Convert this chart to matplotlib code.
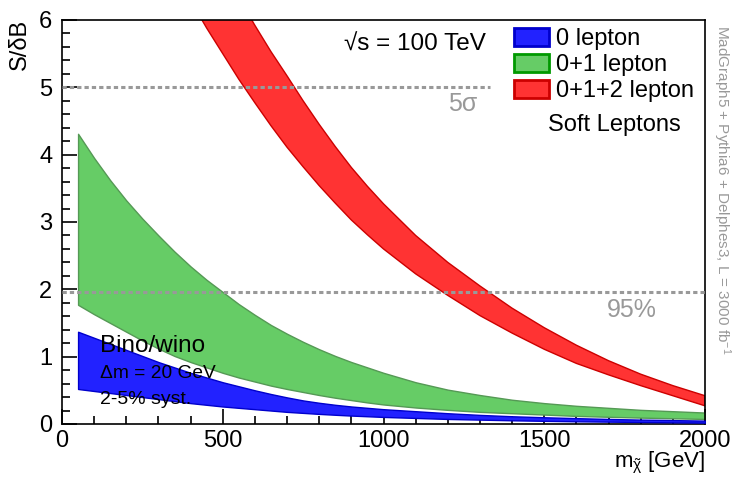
import matplotlib
matplotlib.use("Agg")
import matplotlib.pyplot as plt
from matplotlib.patches import Patch
import numpy as np

plt.rcParams['font.family'] = ['Liberation Sans', 'DejaVu Sans']
plt.rcParams['mathtext.fontset'] = 'custom'
plt.rcParams['mathtext.rm'] = 'Liberation Sans'
plt.rcParams['mathtext.it'] = 'Liberation Sans'
plt.rcParams['mathtext.default'] = 'regular'

# mass points (GeV)
mass = [50, 100, 150, 200, 250, 300, 350, 400, 450, 500,
        550, 600, 650, 700, 750, 800, 850, 900, 950, 1000,
        1100, 1200, 1300, 1400, 1500, 1600, 1700, 1800, 1900, 2000]

# 0 lepton band (lower = 5% syst, upper = 2% syst)
lep0_lo = [0.52, 0.49, 0.46, 0.43, 0.40, 0.37, 0.34, 0.31, 0.285, 0.26,
           0.24, 0.22, 0.20, 0.18, 0.165, 0.15, 0.137, 0.125, 0.115, 0.105,
           0.09, 0.075, 0.065, 0.055, 0.047, 0.04, 0.035, 0.03, 0.025, 0.02]
lep0_hi = [1.37, 1.28, 1.19, 1.10, 1.01, 0.92, 0.84, 0.76, 0.69, 0.62,
           0.56, 0.50, 0.445, 0.395, 0.35, 0.315, 0.285, 0.26, 0.24, 0.22,
           0.19, 0.16, 0.135, 0.115, 0.10, 0.087, 0.075, 0.065, 0.058, 0.05]

# 0+1 lepton band
lep01_lo = [1.77, 1.63, 1.50, 1.37, 1.24, 1.12, 1.01, 0.92, 0.84, 0.76,
            0.69, 0.63, 0.57, 0.52, 0.475, 0.43, 0.39, 0.355, 0.32, 0.29,
            0.245, 0.21, 0.18, 0.16, 0.14, 0.12, 0.107, 0.095, 0.085, 0.075]
lep01_hi = [4.31, 3.95, 3.62, 3.32, 3.05, 2.80, 2.56, 2.34, 2.14, 1.96,
            1.78, 1.62, 1.47, 1.34, 1.22, 1.11, 1.01, 0.92, 0.84, 0.76,
            0.62, 0.51, 0.43, 0.36, 0.31, 0.27, 0.24, 0.21, 0.19, 0.17]

# 0+1+2 lepton band
lep012_lo = [10.2, 9.5, 8.9, 8.3, 7.7, 7.2, 6.7, 6.29, 5.88, 5.50,
             5.12, 4.77, 4.43, 4.11, 3.82, 3.54, 3.28, 3.03, 2.81, 2.60,
             2.23, 1.91, 1.61, 1.35, 1.11, 0.90, 0.73, 0.57, 0.42, 0.27]
lep012_hi = [13.0, 12.2, 11.4, 10.6, 9.9, 9.2, 8.5, 7.9, 7.3, 6.8,
             6.33, 5.92, 5.53, 5.17, 4.80, 4.45, 4.12, 3.81, 3.53, 3.27,
             2.80, 2.40, 2.05, 1.72, 1.43, 1.17, 0.94, 0.74, 0.57, 0.42]

labels = ["0 lepton", "0+1 lepton", "0+1+2 lepton"]
sig5 = 5.0
cl95 = 1.96

W, H = 735, 479
fig = plt.figure(figsize=(W / 100, H / 100), dpi=100)
ax = fig.add_axes([62 / W, 1 - 424 / H, 643 / W, 404 / H])

ax.fill_between(mass, lep012_lo, lep012_hi, facecolor='#ff3333',
                edgecolor='#cc0000', linewidth=1.0, zorder=2)
ax.fill_between(mass, lep01_lo, lep01_hi, facecolor='#66cc66',
                edgecolor='#559955', linewidth=1.0, zorder=2)
ax.fill_between(mass, lep0_lo, lep0_hi, facecolor='#2222ff',
                edgecolor='#0000cc', linewidth=1.0, zorder=3)

ax.axhline(sig5, xmin=0, xmax=(490 - 62) / 643, color='#999999', lw=2.2,
           ls=(0, (1.4, 1.0)), zorder=4)
ax.axhline(cl95, color='#999999', lw=2.2, ls=(0, (1.4, 1.0)), zorder=4)

ax.set_xlim(0, 2000)
ax.set_ylim(0, 6)
ax.set_xticks([0, 500, 1000, 1500, 2000])
ax.set_xticks(np.arange(0, 2001, 100), minor=True)
ax.set_yticks([0, 1, 2, 3, 4, 5, 6])
ax.set_yticks(np.arange(0, 6.01, 0.2), minor=True)
ax.tick_params(which='both', direction='in', labelsize=17, width=1.2)
ax.tick_params(which='major', length=11, pad=7)
ax.tick_params(axis='x', which='major', pad=4)
ax.tick_params(which='minor', length=6)
for s in ax.spines.values():
    s.set_linewidth(1.2)

fig.text(20 / W, 1 - 19 / H, "S/\u03b4B", rotation=90, fontsize=17,
         ha='center', va='top')
fig.text(705 / W, 1 - 467 / H, r"m$_{\tilde{\chi}}$ [GeV]", fontsize=16,
         ha='right', va='baseline')

fig.text(415 / W, 1 - 45 / H, "\u221as = 100 TeV", fontsize=17.5,
         ha='center', va='center')
fig.text(463 / W, 1 - 104 / H, "5\u03c3", fontsize=18, color='#999999',
         ha='center', va='center')
fig.text(632 / W, 1 - 310 / H, "95%", fontsize=18, color='#999999',
         ha='center', va='center')
fig.text(100 / W, 1 - 346 / H, "Bino/wino", fontsize=17.5, ha='left',
         va='center', zorder=5)
fig.text(100 / W, 1 - 373 / H, "\u0394m = 20 GeV", fontsize=13.8, ha='left',
         va='center', zorder=5)
fig.text(100 / W, 1 - 399 / H, "2-5% syst.", fontsize=14, ha='left',
         va='center', zorder=5)
fig.text(614 / W, 1 - 125 / H, "Soft Leptons", fontsize=17, ha='center',
         va='center')
fig.text(722 / W, 1 - 25 / H, r"MadGraph5 + Pythia6 + Delphes3, L = 3000 fb$^{-1}$",
         rotation=-90, fontsize=11, color='#999999', ha='center', va='top')

handles = [Patch(facecolor='#2222ff', edgecolor='#0000cc', lw=2, joinstyle='round'),
           Patch(facecolor='#66cc66', edgecolor='#009900', lw=2, joinstyle='round'),
           Patch(facecolor='#ff3333', edgecolor='#cc0000', lw=2, joinstyle='round')]
ax.legend(handles, labels, loc='upper left', bbox_to_anchor=(514 / W, 1 - 28 / H),
          bbox_transform=fig.transFigure, frameon=False, fontsize=17,
          handlelength=1.5, handleheight=0.8, handletextpad=0.3,
          labelspacing=0.15, borderpad=0, borderaxespad=0)

fig.savefig("out.png", dpi=100)
